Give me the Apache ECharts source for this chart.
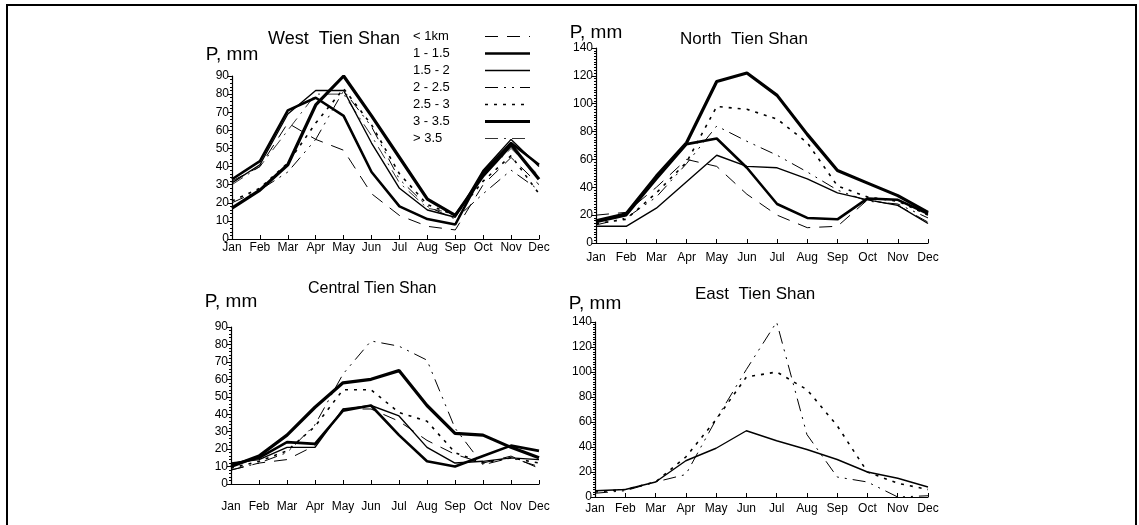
<!DOCTYPE html>
<html>
<head>
<meta charset="utf-8">
<script src="https://cdn.jsdelivr.net/npm/echarts@6/dist/echarts.min.js"></script>
<style>
  html, body { margin: 0; padding: 0; background: #fff; }
  #chart { width: 1139px; height: 525px; }
</style>
</head>
<body>
<div id="chart"></div>
<script>
// month categories and altitude bands (km)
const months = ['Jan', 'Feb', 'Mar', 'Apr', 'May', 'Jun', 'Jul', 'Aug', 'Sep', 'Oct', 'Nov', 'Dec'];
const bands = ['< 1km', '1 - 1.5', '1.5 - 2', '2 - 2.5', '2.5 - 3', '3 - 3.5', '> 3.5'];

// precipitation, mm — one row per band, null = band not drawn in that panel
const westP = [
  [32, 40, 64, 55, 49, 25, 13, 7, 5, 30, 45, 30],
  [33, 43, 71, 78, 68, 37, 18, 11, 8, 37, 53, 41],
  [31, 41, 69, 82, 82, 53, 28, 16, 12, 38, 55, 40],
  [20, 27, 37, 55, 82, 62, 33, 18, 11, 25, 38, 27],
  [21, 28, 42, 64, 83, 63, 36, 19, 13, 32, 46, 25],
  [17, 27, 41, 74, 90, 68, 45, 22, 13, 35, 52, 33],
  [30, 40, 60, 80, 80, 57, 31, 17, 14, 35, 50, 35]
];
const northP = [
  [20, 22, 40, 60, 55, 35, 20, 11, 12, 31, 27, 15],
  [15, 20, 46, 71, 75, 54, 28, 18, 17, 32, 31, 21],
  [12, 12, 25, 44, 63, 55, 54, 46, 36, 31, 27, 14],
  [13, 18, 33, 57, 84, 73, 63, 51, 38, 30, 28, 18],
  [14, 17, 36, 58, 98, 96, 89, 72, 41, 33, 30, 20],
  [16, 21, 48, 72, 116, 122, 106, 78, 52, 43, 34, 22],
  null
];
const centralP = [
  [8, 12, 14, 22, 43, 43, 36, 25, 17, 12, 16, 9],
  [11, 15, 24, 23, 42, 45, 28, 13, 10, 16, 22, 19],
  [12, 14, 21, 21, 43, 45, 39, 21, 12, 13, 15, 14],
  [8, 12, 18, 34, 63, 82, 79, 71, 32, 11, 15, 10],
  [9, 13, 19, 33, 54, 54, 41, 36, 18, 12, 15, 12],
  [10, 16, 28, 44, 58, 60, 65, 45, 29, 28, 21, 15],
  null
];
const eastP = [
  null,
  null,
  [5, 6, 12, 29, 39, 53, 45, 38, 30, 20, 15, 8],
  [3, 5, 12, 18, 62, 102, 140, 50, 16, 12, 0, 1],
  [4, 6, 12, 32, 62, 96, 100, 86, 57, 20, 11, 6],
  null,
  null
];

const font = "'Liberation Sans', Arial, sans-serif";

// line look for each band
const bandStyle = [
  { width: 1, type: [13, 9] },
  { width: 2.6, type: 'solid' },
  { width: 1.4, type: 'solid' },
  { width: 1, type: [13, 6, 2, 6, 2, 6] },
  { width: 1.6, type: [3, 6] },
  { width: 3.2, type: 'solid' },
  { width: 0.8, type: [13, 6, 2, 6] }
];

const panels = [
  { title: 'West  Tien Shan', data: westP, max: 90, step: 10, minor: 5,
    grid: { left: 232, top: 76, width: 307, height: 163 }, nameGap: 21, labelGap: 3,
    tLeft: 268, tTop: 30, tSize: 18 },
  { title: 'North  Tien Shan', data: northP, max: 140, step: 20, minor: 10,
    grid: { left: 596, top: 48, width: 332, height: 195 }, nameGap: 13, labelGap: 9,
    tLeft: 680, tTop: 31, tSize: 17 },
  { title: 'Central Tien Shan', data: centralP, max: 90, step: 10, minor: 5,
    grid: { left: 231, top: 327, width: 308, height: 157 }, nameGap: 25, labelGap: 17,
    tLeft: 308, tTop: 281, tSize: 16 },
  { title: 'East  Tien Shan', data: eastP, max: 140, step: 20, minor: 10,
    grid: { left: 595, top: 322, width: 333, height: 175 }, nameGap: 18, labelGap: 6,
    tLeft: 695, tTop: 286, tSize: 17 }
];

const grids = [], xAxes = [], yAxes = [], titles = [], series = [];

panels.forEach((p, i) => {
  grids.push(p.grid);
  titles.push({
    text: p.title, left: p.tLeft, top: p.tTop, padding: 0,
    textStyle: { fontFamily: font, fontSize: p.tSize, fontWeight: 'normal', color: '#000' }
  });
  xAxes.push({
    type: 'category', gridIndex: i, data: months, boundaryGap: false,
    axisLine: { lineStyle: { color: '#000', width: 1.2 } },
    axisTick: { inside: true, length: 4, lineStyle: { color: '#000' } },
    axisLabel: { interval: 0, margin: p.labelGap, fontFamily: font, fontSize: 12, color: '#000' },
    splitLine: { show: false }
  });
  yAxes.push({
    type: 'value', gridIndex: i, min: 0, max: p.max, interval: p.step,
    name: 'P, mm', nameLocation: 'end', nameGap: p.nameGap,
    nameTextStyle: { fontFamily: font, fontSize: 19, color: '#000', align: 'center', verticalAlign: 'middle' },
    axisLine: { show: true, lineStyle: { color: '#000', width: 1.2 } },
    axisTick: { show: true, length: 4, lineStyle: { color: '#000' } },
    minorTick: { show: true, splitNumber: p.minor, length: 2, lineStyle: { color: '#000' } },
    axisLabel: { margin: 3, fontFamily: font, fontSize: 12, color: '#000' },
    splitLine: { show: false }
  });
  p.data.forEach((vals, b) => {
    if (!vals) return;
    series.push({
      type: 'line', name: bands[b], xAxisIndex: i, yAxisIndex: i, data: vals,
      symbol: 'none', smooth: false,
      lineStyle: Object.assign({ color: '#000' }, bandStyle[b]),
      itemStyle: { color: '#000' },
      emphasis: { disabled: true }
    });
  });
});

const chart = echarts.init(document.getElementById('chart'));
chart.setOption({
  backgroundColor: '#fff',
  animation: false,
  title: titles,
  grid: grids,
  xAxis: xAxes,
  yAxis: yAxes,
  legend: {
    data: bands, orient: 'vertical', left: 413, top: 30, padding: 0,
    align: 'right', itemWidth: 45, itemHeight: 14, itemGap: 4,
    itemStyle: { opacity: 0, borderWidth: 0 },
    lineStyle: { width: 'inherit', type: 'inherit' },
    formatter: name => '{a|' + name + '}',
    textStyle: { fontFamily: font, fontSize: 13, color: '#000',
      rich: { a: { width: 67, align: 'left', fontFamily: font, fontSize: 13, color: '#000' } } }
  },
  graphic: [{
    type: 'polyline', silent: true,
    shape: { points: [[7, 530], [7, 5], [1136, 5], [1136, 530]] },
    style: { stroke: '#000', lineWidth: 2, fill: null }
  }],
  series: series
});
</script>
</body>
</html>
